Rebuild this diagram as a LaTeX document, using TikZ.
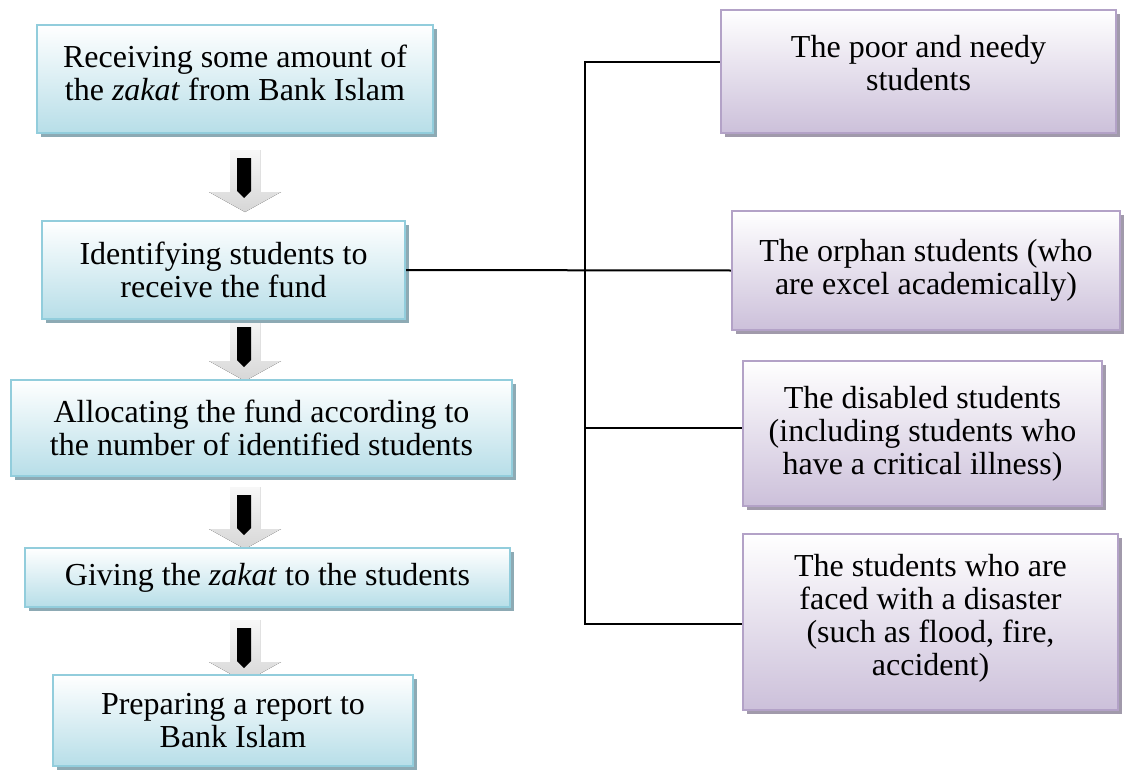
\documentclass[tikz,border=0pt]{standalone}
\usepackage{fontspec}
\setmainfont{Liberation Serif}
\usetikzlibrary{shadows}

\definecolor{stepline}{RGB}{146,205,220}
\definecolor{stepfill}{RGB}{183,222,232}
\definecolor{stepshadow}{RGB}{141,170,180}
\definecolor{groupline}{RGB}{179,162,199}
\definecolor{groupfill}{RGB}{204,192,218}
\definecolor{groupshadow}{RGB}{161,154,171}

\tikzset{
  stepbox/.style={draw=stepline, line width=1.2pt, top color=white, bottom color=stepfill,
    drop shadow={shadow xshift=2pt, shadow yshift=-2pt, fill=stepshadow, opacity=1},
    align=center, inner sep=2pt, font=\fontsize{16}{16.5}\selectfont},
  groupbox/.style={stepbox, draw=groupline, bottom color=groupfill,
    drop shadow={shadow xshift=2pt, shadow yshift=-2pt, fill=groupshadow, opacity=1}},
  link/.style={line width=1pt, black},
  blockarrow/.pic={
    \fill[top color=gray!6, bottom color=gray!32]
      (-15,0) -- (15,0) -- (15,42) -- (36,42) -- (0,62) -- (-36,42) -- (-15,42) -- cycle;
    \fill[black] (-8,8) -- (6,8) -- (6,41) -- (-1,48) -- (-8,41) -- cycle;
  }
}

\begin{document}
\begin{tikzpicture}[x=0.5pt, y=-0.5pt]
  \useasboundingbox (0,0) rectangle (1126,771);

  % Block arrows (under the boxes)
  \pic at (245,150) {blockarrow};
  \pic at (245,319) {blockarrow};
  \pic at (245,487) {blockarrow};
  \pic at (245,620) {blockarrow};

  % Steps
  \node[stepbox, minimum width=198pt, minimum height=54pt] (receive) at (235,79)
    {Receiving some amount of\\the \textit{zakat} from Bank Islam\\[-10.5pt]};
  \node[stepbox, minimum width=181.5pt, minimum height=49pt] (identify) at (223.5,270)
    {Identifying students to\\receive the fund};
  \node[stepbox, minimum width=250.5pt, minimum height=48pt] (allocate) at (261.5,428)
    {Allocating the fund according to\\the number of identified students};
  \node[stepbox, minimum width=242.5pt, minimum height=29.5pt] (give) at (267.5,577.5)
    {Giving the \textit{zakat} to the students};
  \node[stepbox, minimum width=180pt, minimum height=45.5pt] (report) at (233,720.5)
    {Preparing a report to\\Bank Islam};

  % Student groups
  \node[groupbox, minimum width=197.5pt, minimum height=61.5pt] (poor) at (918.5,71.5)
    {The poor and needy\\students\\[-7.5pt]};
  \node[groupbox, minimum width=194pt, minimum height=59.5pt] (orphan) at (926,270.5)
    {The orphan students (who\\are excel academically)};
  \node[groupbox, minimum width=179.5pt, minimum height=72.5pt] (disabled) at (922.5,433.5)
    {The disabled students\\(including students who\\have a critical illness)};
  \node[groupbox, minimum width=187.5pt, minimum height=88pt] (disaster) at (930.5,622)
    {The students who are\\faced with a disaster\\(such as flood, fire,\\accident)\\[-9.5pt]};

  % Connectors
  \coordinate (spinetop) at (585,62);
  \coordinate (spinebot) at (585,624);
  \draw[link] (identify.east) -- (orphan.west);
  \draw[link] (poor.west |- spinetop) -- (spinetop) -- (spinebot) -- (spinebot -| disaster.west);
  \draw[link] ([yshift=3pt]disabled.west) -- ([yshift=3pt]disabled.west -| spinetop);

\end{tikzpicture}
\end{document}
